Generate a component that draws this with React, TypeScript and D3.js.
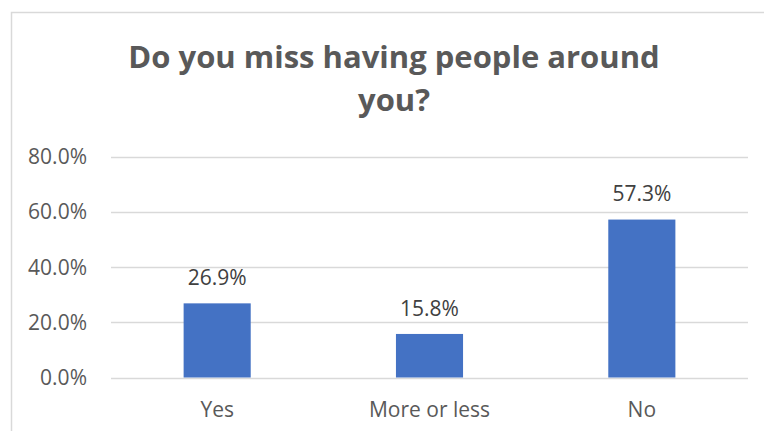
import React, { useEffect, useRef } from "react";
import * as d3 from "d3";

const categories: string[] = ["Yes", "More or less", "No"];
const values: number[] = [0.269, 0.158, 0.573];
const yTicks: number[] = [0, 0.2, 0.4, 0.6, 0.8];
const titleLines: string[] = ["Do you miss having people around", "you?"];

const W = 764;
const H = 431;

export default function App() {
  const ref = useRef<SVGSVGElement>(null);

  useEffect(() => {
    const svg = d3.select(ref.current);
    svg.selectAll("*").remove();

    const font = "'Open Sans', 'Segoe UI', sans-serif";
    const plot = { left: 111, right: 748, top: 157, bottom: 377.5 };
    const fs = 21;

    // border
    svg.append("rect")
      .attr("x", 11.5).attr("y", 12.5)
      .attr("width", W + 20).attr("height", H + 20)
      .attr("fill", "#fff").attr("stroke", "#d9d9d9").attr("stroke-width", 1.5);

    // title
    const tl = svg.append("g");
    titleLines.forEach((t, i) => {
      tl.append("text")
        .attr("x", 394).attr("y", 68 + i * 43)
        .attr("text-anchor", "middle")
        .attr("font-family", font).attr("font-weight", 700)
        .attr("font-size", 31).attr("fill", "#595959")
        .text(t);
    });

    const x = d3.scaleBand<string>().domain(categories).range([plot.left, plot.right]).paddingInner(0.684).paddingOuter(0.342);
    const y = d3.scaleLinear().domain([0, 0.8]).range([plot.bottom, plot.top]);

    // gridlines
    svg.append("g").selectAll("line").data(yTicks).join("line")
      .attr("x1", plot.left).attr("x2", plot.right)
      .attr("y1", (d) => Math.round(y(d)) + 0.5).attr("y2", (d) => Math.round(y(d)) + 0.5)
      .attr("stroke", "#d9d9d9").attr("stroke-width", 1.5);

    // y labels
    svg.append("g").selectAll("text").data(yTicks).join("text")
      .attr("x", 87).attr("y", (d) => y(d))
      .attr("dy", "0.35em").attr("text-anchor", "end")
      .attr("font-family", font).attr("font-size", fs).attr("fill", "#595959")
      .text((d) => d3.format(".1%")(d));

    // bars
    svg.append("g").selectAll("rect").data(values).join("rect")
      .attr("x", (_, i) => x(categories[i])!)
      .attr("width", x.bandwidth())
      .attr("y", (d) => y(d))
      .attr("height", (d) => y(0) - y(d))
      .attr("fill", "#4472C4");

    // data labels
    svg.append("g").selectAll("text").data(values).join("text")
      .attr("x", (_, i) => x(categories[i])! + x.bandwidth() / 2)
      .attr("y", (d) => y(d) - 25.5)
      .attr("dy", "0.35em").attr("text-anchor", "middle")
      .attr("font-family", font).attr("font-size", fs).attr("fill", "#404040")
      .text((d) => d3.format(".1%")(d));

    // category labels
    svg.append("g").selectAll("text").data(categories).join("text")
      .attr("x", (d) => x(d)! + x.bandwidth() / 2)
      .attr("y", 409.5)
      .attr("dy", "0.35em").attr("text-anchor", "middle")
      .attr("font-family", font).attr("font-size", fs).attr("fill", "#595959")
      .text((d) => d);
  }, []);

  return (
    <svg
      ref={ref}
      width={W}
      height={H}
      style={{ position: "absolute", left: 0, top: 0, background: "#fff" }}
    />
  );
}
